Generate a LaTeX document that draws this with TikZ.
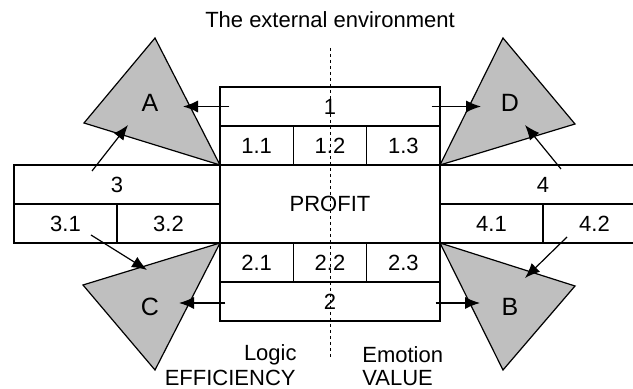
\documentclass[tikz,border=0pt]{standalone}
\usepackage{fontspec}
\setmainfont{Liberation Sans}
\usetikzlibrary{arrows.meta}

\tikzset{
	cell/.style={draw, line width=0.6pt, minimum height=19.5pt, inner sep=0pt, font=\fontsize{11}{13}\selectfont},
	tri/.style={draw, line width=0.6pt, fill=black!25, line join=miter},
	trilabel/.style={inner sep=0pt, font=\fontsize{12.5}{14}\selectfont},
	plain/.style={inner sep=0pt, font=\fontsize{11}{13}\selectfont},
	arr/.style={line width=0.6pt, -{Latex[length=7.5pt,width=6pt]}},
}

\begin{document}
\begin{tikzpicture}[x=0.5pt,y=-0.5pt]
	\clip (0,0) rectangle (633,389);

	\draw[tri] (155,38) -- (84,123) -- (220,165) -- cycle;
	\draw[tri] (503,38) -- (575,124) -- (440,165) -- cycle;
	\draw[tri] (220,243) -- (83,285) -- (155,370) -- cycle;
	\draw[tri] (440,243) -- (575,286) -- (503,370) -- cycle;
	\node[trilabel] (A) at (150,103) {A};
	\node[trilabel] (D) at (510,103) {D};
	\node[trilabel] (C) at (150,307) {C};
	\node[trilabel] (B) at (510,307) {B};

	\node[plain] (env) at (330,20) {The external environment};

	\node[cell, minimum width=110pt] (one) at (330,106.5) {1};
	\node[cell, minimum width=36.67pt] (one1) at (256.67,145.5) {1.1};
	\node[cell, minimum width=36.67pt] (one2) at (330,145.5) {1.2};
	\node[cell, minimum width=36.67pt] (one3) at (403.33,145.5) {1.3};

	\node[cell, minimum width=110pt, minimum height=39pt] (profit) at (330,204) {PROFIT};

	\node[cell, minimum width=36.67pt] (two1) at (256.67,262.5) {2.1};
	\node[cell, minimum width=36.67pt] (two2) at (330,262.5) {2.2};
	\node[cell, minimum width=36.67pt] (two3) at (403.33,262.5) {2.3};
	\node[cell, minimum width=110pt] (two) at (330,301.5) {2};

	\node[cell, minimum width=103pt] (three) at (117,184.5) {3};
	\node[cell, minimum width=51.5pt] (three1) at (65.5,223.5) {3.1};
	\node[cell, minimum width=51.5pt] (three2) at (168.5,223.5) {3.2};

	\node[cell, minimum width=103pt] (four) at (543,184.5) {4};
	\node[cell, minimum width=51.5pt] (four1) at (491.5,223.5) {4.1};
	\node[cell, minimum width=51.5pt] (four2) at (594.5,223.5) {4.2};

	\node[plain, anchor=east] (logic) at (297,355) {Logic};
	\node[plain, anchor=east] (eff) at (296,378) {EFFICIENCY};
	\node[plain, anchor=west] (emo) at (362,355) {Emotion};
	\node[plain, anchor=west] (val) at (362,378) {VALUE};

	\coordinate (tipA) at (183,106.5);
	\coordinate (tipD) at (481,106.5);
	\coordinate (tipC) at (179,303);
	\coordinate (tipB) at (480,303);
	\coordinate (from3) at (92,171);
	\coordinate (to3) at (128,125);
	\coordinate (from4) at (561,169);
	\coordinate (to4) at (525,125);
	\coordinate (from31) at (91,235);
	\coordinate (to31) at (147,270);
	\coordinate (from42) at (567,237);
	\coordinate (to42) at (525,278);

	\draw[arr] ([xshift=5pt]one.west) -- (tipA);
	\draw[arr] ([xshift=-4.5pt]one.east) -- (tipD);
	\draw[arr] ([xshift=3pt,yshift=-0.75pt]two.west) -- (tipC);
	\draw[arr] ([xshift=-2.5pt,yshift=-0.75pt]two.east) -- (tipB);
	\draw[arr] (from3) -- (to3);
	\draw[arr] (from4) -- (to4);
	\draw[arr] (from31) -- (to31);
	\draw[arr] (from42) -- (to42);

	\coordinate (midtop) at (330,48);
	\coordinate (midbot) at (330,357);
	\draw[line width=0.4pt, dash pattern=on 1.5pt off 1.5pt] (midtop) -- (midbot);
\end{tikzpicture}
\end{document}
